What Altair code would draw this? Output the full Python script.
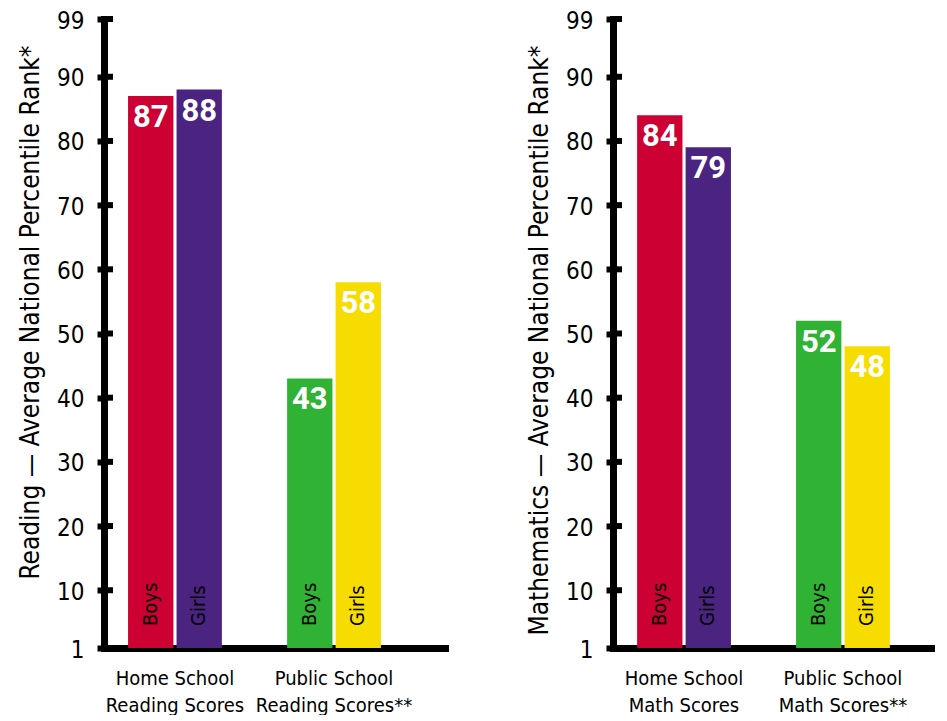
import altair as alt
import pandas as pd

# ---- data ----
genders = ["Boys", "Girls", "Boys", "Girls"]
series = ["Home Boys", "Home Girls", "Public Boys", "Public Girls"]
series_colors = ["#CC0033", "#4B2380", "#30B334", "#F7DC00"]
reading_groups = ["Home School|Reading Scores", "Home School|Reading Scores",
                  "Public School|Reading Scores**", "Public School|Reading Scores**"]
math_groups = ["Home School|Math Scores", "Home School|Math Scores",
               "Public School|Math Scores**", "Public School|Math Scores**"]
reading_values = [87, 88, 43, 58]
math_values = [84, 79, 52, 48]
y_ticks = [1, 10, 20, 30, 40, 50, 60, 70, 80, 90, 99]
reading_title = "Reading \u2014 Average National Percentile Rank*"
math_title = "Mathematics \u2014 Average National Percentile Rank*"

FONT = "'DejaVu Sans Condensed', 'Roboto Condensed', Roboto, sans-serif"
NUMFONT = "Roboto"
H = 629
PI = 0.41


def panel(groups, values, title, width, po, align):
    df = pd.DataFrame({"group": groups, "gender": genders, "series": series, "value": values})
    x = alt.X("group:N", sort=None,
              scale=alt.Scale(paddingInner=PI, paddingOuter=po, align=align),
              axis=alt.Axis(title=None, labelAngle=0, labelExpr="split(datum.label, '|')",
                            ticks=False, domainWidth=7, domainColor="black", domainCap="square",
                            labelFont=FONT, labelFontSize=20, labelColor="black",
                            labelPadding=20, labelLineHeight=27, labelBaseline="top"))
    xo = alt.XOffset("gender:N", scale=alt.Scale(paddingInner=0.065))
    yscale = alt.Scale(domain=[1, 99], zero=False, nice=False)
    y = alt.Y("value:Q", scale=yscale,
              axis=alt.Axis(values=y_ticks, title=title, grid=False,
                            domainWidth=7, domainColor="black", domainCap="square",
                            tickSize=7, tickWidth=6, tickColor="black",
                            labelFont=FONT, labelFontSize=24, labelColor="black",
                            labelPadding=13, labelBaseline="middle", labelOffset=2,
                            titleFont=FONT, titleFontSize=26, titleFontWeight="normal",
                            titleColor="black", titleAngle=270, titleAlign="right",
                            titleBaseline="alphabetic", titleX=-66, titleY=26))
    base = alt.Chart(df)
    bars = base.mark_bar().encode(
        x=x, xOffset=xo, y=y, y2=alt.datum(1),
        color=alt.Color("series:N", scale=alt.Scale(domain=series, range=series_colors), legend=None))
    nums = base.mark_text(font=NUMFONT, fontSize=31, fontWeight="bold", color="white",
                          baseline="top", dy=7).encode(
        x=x, xOffset=xo, y=alt.Y("value:Q", scale=yscale), text="value:Q")
    gl = base.mark_text(font=FONT, fontSize=20, color="black", angle=270, align="left",
                        baseline="middle", dx=22).encode(
        x=x, xOffset=xo, y=alt.datum(1), text="gender:N")
    stubs = alt.Chart(pd.DataFrame({"value": y_ticks})).mark_rule(color="black", strokeWidth=6).encode(
        y=alt.Y("value:Q", scale=yscale), x=alt.value(0), x2=alt.value(9))
    return alt.layer(bars, nums, gl, stubs).properties(width=width, height=H)


left = panel(reading_groups, reading_values, reading_title, 341, 0.277, 0.273)
right = panel(math_groups, math_values, math_title, 322, 0.218, 0.348)

chart = alt.hconcat(left, right, spacing=81).properties(
    padding={"left": 9, "top": 1, "right": 0, "bottom": 0}
).configure_view(stroke=None)

chart.save("out.html", embed_options={"renderer": "svg", "actions": False})
